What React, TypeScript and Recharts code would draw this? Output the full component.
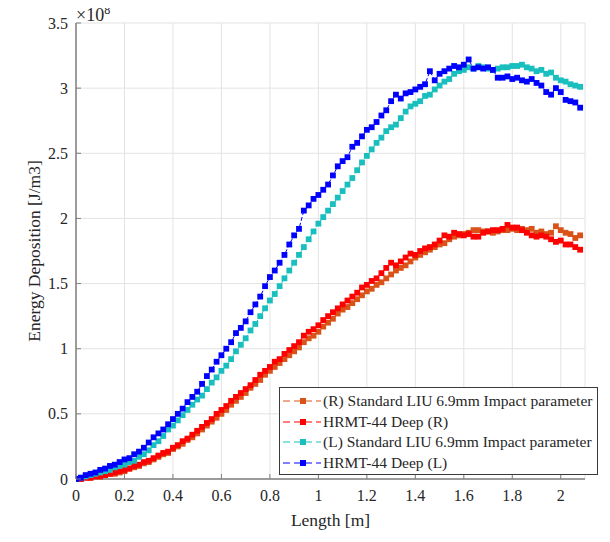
import React from 'react';
import { LineChart, Line, XAxis, YAxis, CartesianGrid } from 'recharts';

const xs = [
  0, 0.02, 0.04, 0.06, 0.08, 0.1, 0.12, 0.14, 0.16, 0.18,
  0.2, 0.22, 0.24, 0.26, 0.28, 0.3, 0.32, 0.34, 0.36, 0.38,
  0.4, 0.42, 0.44, 0.46, 0.48, 0.5, 0.52, 0.54, 0.56, 0.58,
  0.6, 0.62, 0.64, 0.66, 0.68, 0.7, 0.72, 0.74, 0.76, 0.78,
  0.8, 0.82, 0.84, 0.86, 0.88, 0.9, 0.92, 0.94, 0.96, 0.98,
  1.0, 1.02, 1.04, 1.06, 1.08, 1.1, 1.12, 1.14, 1.16, 1.18,
  1.2, 1.22, 1.24, 1.26, 1.28, 1.3, 1.32, 1.34, 1.36, 1.38,
  1.4, 1.42, 1.44, 1.46, 1.48, 1.5, 1.52, 1.54, 1.56, 1.58,
  1.6, 1.62, 1.64, 1.66, 1.68, 1.7, 1.72, 1.74, 1.76, 1.78,
  1.8, 1.82, 1.84, 1.86, 1.88, 1.9, 1.92, 1.94, 1.96, 1.98,
  2.0, 2.02, 2.04, 2.06, 2.08,
];

// values in units of 1e8 J/m3
const rStandard = [
  0.00, 0.00, 0.01, 0.01, 0.02, 0.02, 0.03, 0.04, 0.04, 0.05,
  0.06, 0.08, 0.09, 0.10, 0.12, 0.13, 0.15, 0.17, 0.19, 0.20,
  0.23, 0.25, 0.27, 0.30, 0.32, 0.35, 0.38, 0.41, 0.44, 0.47,
  0.50, 0.53, 0.57, 0.60, 0.63, 0.66, 0.70, 0.73, 0.76, 0.80,
  0.83, 0.86, 0.89, 0.92, 0.95, 0.98, 1.01, 1.05, 1.08, 1.10,
  1.13, 1.17, 1.20, 1.23, 1.27, 1.30, 1.32, 1.35, 1.38, 1.41,
  1.44, 1.46, 1.49, 1.51, 1.54, 1.57, 1.60, 1.62, 1.64, 1.67,
  1.70, 1.72, 1.74, 1.76, 1.78, 1.80, 1.81, 1.84, 1.86, 1.87,
  1.88, 1.89, 1.91, 1.91, 1.90, 1.90, 1.89, 1.90, 1.91, 1.91,
  1.92, 1.91, 1.92, 1.91, 1.92, 1.89, 1.90, 1.88, 1.89, 1.94,
  1.91, 1.89, 1.88, 1.85, 1.87,
];

const rHrmt = [
  0.00, 0.00, 0.01, 0.01, 0.02, 0.02, 0.03, 0.04, 0.05, 0.06,
  0.07, 0.08, 0.10, 0.11, 0.13, 0.14, 0.16, 0.18, 0.20, 0.21,
  0.24, 0.26, 0.29, 0.31, 0.34, 0.37, 0.40, 0.43, 0.46, 0.50,
  0.53, 0.56, 0.60, 0.63, 0.66, 0.69, 0.72, 0.76, 0.80, 0.83,
  0.86, 0.90, 0.92, 0.96, 0.99, 1.02, 1.05, 1.10, 1.13, 1.15,
  1.18, 1.22, 1.25, 1.28, 1.31, 1.34, 1.37, 1.40, 1.43, 1.47,
  1.49, 1.52, 1.54, 1.58, 1.62, 1.66, 1.64, 1.67, 1.70, 1.73,
  1.72, 1.75, 1.77, 1.78, 1.80, 1.83, 1.87, 1.86, 1.89, 1.88,
  1.87, 1.88, 1.86, 1.86, 1.89, 1.90, 1.91, 1.91, 1.92, 1.95,
  1.93, 1.93, 1.91, 1.89, 1.87, 1.86, 1.87, 1.86, 1.84, 1.82,
  1.83, 1.80, 1.80, 1.78, 1.76,
];

const lStandard = [
  0.00, 0.01, 0.02, 0.03, 0.04, 0.05, 0.06, 0.07, 0.09, 0.10,
  0.11, 0.13, 0.14, 0.17, 0.19, 0.22, 0.26, 0.29, 0.33, 0.38,
  0.41, 0.45, 0.49, 0.53, 0.57, 0.61, 0.64, 0.69, 0.74, 0.78,
  0.83, 0.87, 0.92, 0.98, 1.03, 1.08, 1.14, 1.19, 1.25, 1.31,
  1.37, 1.42, 1.48, 1.54, 1.60, 1.66, 1.72, 1.78, 1.84, 1.90,
  1.96, 2.01, 2.06, 2.11, 2.16, 2.21, 2.26, 2.31, 2.37, 2.43,
  2.48, 2.53, 2.58, 2.62, 2.67, 2.70, 2.72, 2.77, 2.82, 2.86,
  2.88, 2.90, 2.94, 2.95, 2.99, 3.02, 3.05, 3.07, 3.11, 3.13,
  3.14, 3.16, 3.15, 3.17, 3.16, 3.15, 3.14, 3.15, 3.16, 3.16,
  3.17, 3.17, 3.18, 3.16, 3.15, 3.13, 3.14, 3.11, 3.12, 3.08,
  3.06, 3.05, 3.03, 3.02, 3.01,
];

const lHrmt = [
  0.00, 0.01, 0.03, 0.04, 0.05, 0.07, 0.08, 0.10, 0.11, 0.13,
  0.15, 0.16, 0.19, 0.21, 0.24, 0.28, 0.32, 0.35, 0.38, 0.42,
  0.46, 0.50, 0.54, 0.59, 0.63, 0.67, 0.73, 0.79, 0.84, 0.90,
  0.95, 1.00, 1.05, 1.12, 1.16, 1.21, 1.28, 1.34, 1.40, 1.48,
  1.55, 1.60, 1.66, 1.72, 1.80, 1.87, 1.92, 2.06, 2.10, 2.15,
  2.18, 2.22, 2.26, 2.33, 2.40, 2.44, 2.47, 2.55, 2.58, 2.63,
  2.68, 2.70, 2.74, 2.79, 2.83, 2.90, 2.95, 2.92, 2.96, 2.97,
  2.99, 3.01, 3.03, 3.13, 3.06, 3.11, 3.13, 3.15, 3.17, 3.16,
  3.18, 3.22, 3.15, 3.16, 3.15, 3.16, 3.14, 3.08, 3.08, 3.09,
  3.07, 3.08, 3.06, 3.05, 3.07, 3.04, 3.02, 2.97, 2.95, 3.00,
  2.97, 2.91, 2.90, 2.89, 2.85,
];

const xTicks = [0, 0.2, 0.4, 0.6, 0.8, 1, 1.2, 1.4, 1.6, 1.8, 2];
const yTicks = [0, 0.5, 1, 1.5, 2, 2.5, 3, 3.5];

const seriesNames = [
  '(R) Standard LIU 6.9mm Impact parameter',
  'HRMT-44 Deep (R)',
  '(L) Standard LIU 6.9mm Impact parameter',
  'HRMT-44 Deep (L)',
];
const seriesKeys = ['rStd', 'rHrmt', 'lStd', 'lHrmt'];
const seriesColors = ['#D95319', '#FF0000', '#19BFBF', '#0000FF'];

const data = xs.map((x, i) => ({
  x,
  rStd: rStandard[i],
  rHrmt: rHrmt[i],
  lStd: lStandard[i],
  lHrmt: lHrmt[i],
}));

const FONT = "'Liberation Serif', 'Times New Roman', Times, serif";
const TEXT = '#262626';
const AXIS = '#7f7f7f';

const XTick = (props: any) => {
  const { x, y, payload } = props;
  return (
    <g>
      <line x1={x} x2={x} y1={y} y2={y - 5} stroke={AXIS} strokeWidth={1} />
      <text x={x} y={y + 22} textAnchor="middle" fontFamily={FONT} fontSize={16} fill={TEXT}>
        {String(payload.value)}
      </text>
    </g>
  );
};

const YTick = (props: any) => {
  const { x, y, payload } = props;
  return (
    <g>
      <line x1={x} x2={x + 5} y1={y} y2={y} stroke={AXIS} strokeWidth={1} />
      <text x={x - 8} y={y} dy="0.35em" textAnchor="end" fontFamily={FONT} fontSize={16} fill={TEXT}>
        {String(payload.value)}
      </text>
    </g>
  );
};

const makeDot = (color: string) => (props: any) => {
  const { cx, cy, index } = props;
  if (cx == null || cy == null) return <g key={index} />;
  return <rect key={index} x={cx - 2.9} y={cy - 2.9} width={5.8} height={5.8} fill={color} />;
};

const LegendRow = ({ name, color }: { name: string; color: string }) => (
  <div style={{ display: 'flex', alignItems: 'center', height: 20.5 }}>
    <svg width={42} height={12} style={{ flex: 'none' }}>
      <line x1={3} x2={41} y1={6} y2={6} stroke={color} strokeWidth={1} strokeDasharray="7 4" />
      <rect x={20} y={3} width={6} height={6} fill={color} />
    </svg>
    <span style={{ marginLeft: 1, whiteSpace: 'nowrap' }}>{name}</span>
  </div>
);

export default function App() {
  return (
    <div style={{ position: 'relative', width: 600, height: 530, background: '#fff', fontFamily: FONT }}>
      <LineChart
        width={600}
        height={530}
        data={data}
        margin={{ top: 15, right: 23, bottom: 29, left: 0 }}
      >
        <CartesianGrid stroke="#e3e3e3" strokeWidth={1} />
        <XAxis
          dataKey="x"
          type="number"
          domain={[0, 2.1]}
          ticks={xTicks}
          allowDataOverflow
          height={30}
          tickSize={0}
          tickMargin={0}
          tickLine={false}
          axisLine={{ stroke: AXIS, strokeWidth: 1.5 }}
          tick={<XTick />}
          label={(p: any) => {
            const vb = p.viewBox;
            return (
              <text x={vb.x + vb.width / 2} y={518} textAnchor="middle" fontFamily={FONT} fontSize={17.5} fill={TEXT}>
                Length [m]
              </text>
            );
          }}
        />
        <YAxis
          type="number"
          domain={[0, 3.5]}
          ticks={yTicks}
          width={68}
          tickSize={0}
          tickMargin={0}
          tickLine={false}
          axisLine={{ stroke: AXIS, strokeWidth: 1.5 }}
          tick={<YTick />}
          label={(p: any) => {
            const vb = p.viewBox;
            const cy = vb.y + vb.height / 2;
            return (
              <text x={32} y={cy} transform={`rotate(-90 32 ${cy})`} textAnchor="middle" fontFamily={FONT} fontSize={17.5} fill={TEXT}>
                Energy Deposition [J/m3]
              </text>
            );
          }}
        />
        {seriesKeys.map((k, i) => (
          <Line
            key={k}
            type="linear"
            dataKey={k}
            name={seriesNames[i]}
            stroke={seriesColors[i]}
            strokeWidth={1}
            strokeDasharray="4 2"
            dot={makeDot(seriesColors[i])}
            activeDot={false}
            isAnimationActive={false}
          />
        ))}
      </LineChart>
      <div
        style={{
          position: 'absolute',
          left: 68,
          top: -5,
          fontSize: 18,
          color: TEXT,
          whiteSpace: 'nowrap',
        }}
      >
        ×10<sup style={{ fontSize: 12 }}>8</sup>
      </div>
      <div
        style={{
          position: 'absolute',
          left: 271,
          top: 379,
          width: 317,
          height: 83,
          border: '1px solid #3a3a3a',
          background: '#fff',
          fontSize: 15.5,
          color: TEXT,
          paddingTop: 3,
          boxSizing: 'content-box',
        }}
      >
        {seriesNames.map((n, i) => (
          <LegendRow key={n} name={n} color={seriesColors[i]} />
        ))}
      </div>
    </div>
  );
}
